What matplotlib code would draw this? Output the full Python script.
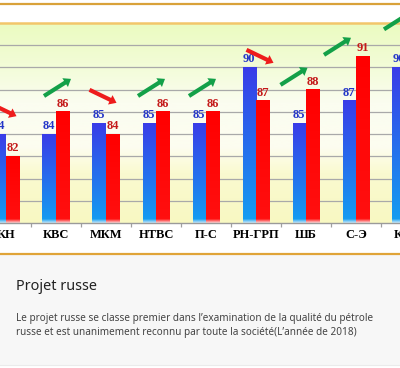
import matplotlib

matplotlib.use("Agg")
import matplotlib.pyplot as plt
import numpy as np
from matplotlib.colors import LinearSegmentedColormap, to_rgb
from matplotlib.lines import Line2D
from matplotlib.patches import Rectangle

categories = ["КН", "КВС", "МКМ", "НТВС", "П-С", "РН-ГРП", "ШБ", "С-Э", "КоН"]
before = [84, 84, 85, 85, 85, 90, 85, 87, 90]
after = [82, 86, 84, 86, 86, 87, 88, 91, 92]
# trend arrow placement: value level and sideways nudge
arrow_level = [86.2, 88.2, 87.4, 88.2, 88.2, 91.0, 89.2, 91.9, 94.2]
arrow_shift = [-0.06, 0.03, -0.06, -0.09, -0.07, 0.08, -0.24, -0.37, -0.17]
y_ticks = [78, 80, 82, 84, 86, 88, 90, 92]
title = "Projet russe"
body = [
    "Le projet russe se classe premier dans l\u2019examination de la qualité du pétrole",
    "russe et est unanimement reconnu par toute la société(L\u2019année de 2018)",
]

W, H = 400, 368
BASE, TOP = 76, 94
fig = plt.figure(figsize=(W / 100, H / 100), dpi=100)
fig.patch.set_facecolor("white")

# chart is a crop of a wider one, so the axes run past the figure edges
ax = fig.add_axes([-19 / W, (H - 223) / H, 450 / W, 200 / H])
for s in ax.spines.values():
    s.set_visible(False)

bg = LinearSegmentedColormap.from_list(
    "bg",
    [(0, "#f8f8c2"), (0.25, "#fafad0"), (0.38, "#fdfdf0"), (0.6, "#fbfdf0"), (0.8, "#f2fcd6"), (1.0, "#ebfbc0")],
)
ax.imshow(np.linspace(0, 1, 256).reshape(-1, 1), extent=(0, 1, 0, 1), transform=ax.transAxes,
          cmap=bg, aspect="auto", origin="lower", zorder=0)

for t in y_ticks:
    ax.axhline(t, color="#a9a9a9", lw=0.9, zorder=1)
ax.axhline(TOP, color="#f2c66a", lw=1.8, zorder=1, clip_on=False)
ax.axhline(BASE, color="#9a9a9a", lw=1.0, zorder=4, clip_on=False)


def bar_image(x0, x1, top, c_bottom, c_top, fade):
    ys = np.linspace(BASE, top, 200)
    f = (ys - BASE) / (top - BASE)
    c0, c1, cf = np.array(to_rgb(c_bottom)), np.array(to_rgb(c_top)), np.array(to_rgb(fade))
    rgb = c0[None, :] * (1 - f[:, None]) + c1[None, :] * f[:, None]
    k = np.clip((ys - BASE) / 0.35, 0, 1)[:, None]
    rgb = cf * (1 - k) + rgb * k
    ax.imshow(rgb[:, None, :], extent=(x0, x1, BASE, top), aspect="auto", origin="lower", zorder=2)


x = np.arange(len(categories))
w = 0.27
blue_bars = ax.bar(x - w / 2, np.array(before) - BASE, w, bottom=BASE, color="none", zorder=3)
red_bars = ax.bar(x + w / 2, np.array(after) - BASE, w, bottom=BASE, color="none", zorder=3)
for r in blue_bars:
    bar_image(r.get_x(), r.get_x() + r.get_width(), r.get_y() + r.get_height(), "#139ff1", "#3a3ce8", "#c4e8fb")
for r in red_bars:
    bar_image(r.get_x(), r.get_x() + r.get_width(), r.get_y() + r.get_height(), "#ff1010", "#ff0000", "#ffd2d2")
ax.set_xlim(-0.5, len(categories) - 0.5)
ax.set_ylim(BASE, TOP)

lab = dict(ha="center", va="bottom", fontsize=9, fontweight="bold", family="Liberation Serif",
           textcoords="offset points", xytext=(0, 1.5))
for xi, v in zip(x - w / 2, before):
    ax.annotate(str(v), (xi, v), color="#2436c8", **lab)
for xi, v in zip(x + w / 2, after):
    ax.annotate(str(v), (xi, v), color="#c41a1a", **lab)

for xi, b, a, lvl, sh in zip(x, before, after, arrow_level, arrow_shift):
    up = a > b
    dy = 0.77 if up else -0.585
    cx = xi + sh
    ax.annotate("", xy=(cx + 0.27, lvl + dy), xytext=(cx - 0.27, lvl - dy),
                arrowprops=dict(arrowstyle="simple,head_length=0.5,head_width=0.75,tail_width=0.3",
                                color="#13a048" if up else "#ee1c1c", lw=0, shrinkA=0, shrinkB=0),
                annotation_clip=False, zorder=5)

ax.set_yticks([])
ax.set_xticks(x, categories, fontsize=9, fontweight="bold", family="Liberation Serif")
ax.set_xticks(x[:-1] + 0.5, minor=True)
ax.tick_params(axis="x", which="major", length=0, pad=4.5)
ax.tick_params(axis="x", which="minor", length=3, color="#a0a0a0", width=0.9)

# decorations of the page around the chart
fig.add_artist(Line2D([0, 1], [1 - 3.5 / H] * 2, color="#d9a23a", lw=1.6))
fig.add_artist(Rectangle((0, 3 / H), 1, 110 / H, transform=fig.transFigure, fc="#f7f7f7", ec="none", zorder=0))
fig.add_artist(Line2D([0, 1], [1 - 253.5 / H] * 2, color="#e0a438", lw=1.6))
fig.add_artist(Line2D([0, 1], [3 / H] * 2, color="#ebebeb", lw=0.8))

fig.text(16 / W, 1 - 287 / H, title, fontsize=10.4, family="Noto Sans", color="#222222", va="center")
for k, line in enumerate(body):
    fig.text(16 / W, 1 - (319 + 13 * k) / H, line, fontsize=7.2, family="Noto Sans", color="#444444", va="center")

fig.savefig("out.png", dpi=100)
